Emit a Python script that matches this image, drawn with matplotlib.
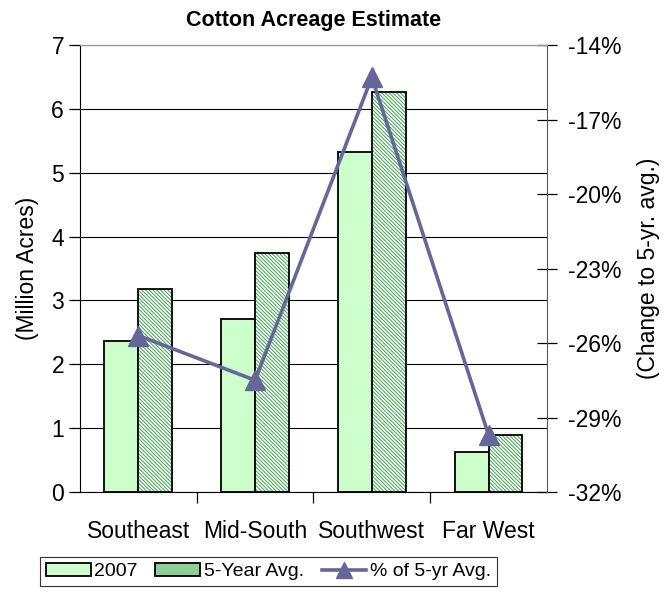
import numpy as np
import matplotlib.pyplot as plt
from matplotlib.patches import Patch
from matplotlib.lines import Line2D
from matplotlib.ticker import FuncFormatter

plt.rcParams['font.family'] = ['Liberation Sans', 'DejaVu Sans']
plt.rcParams['hatch.linewidth'] = 0.7

# Data
regions = ['Southeast', 'Mid-South', 'Southwest', 'Far West']
acres_2007 = [2.36, 2.71, 5.32, 0.62]
acres_5yr = [3.18, 3.74, 6.26, 0.90]
pct_change = [-25.7, -27.5, -15.3, -29.7]

HATCH = '\\\\\\\\\\\\\\\\\\'
HATCH_GREEN = '#3fa34d'
LINE_COLOR = '#666699'
FS = 16.5

fig = plt.figure(figsize=(6.67, 5.94), dpi=100)
ax = fig.add_axes([0.1199, 0.1717, 0.7001, 0.7525])

x = np.arange(len(regions))
w = 0.29
ax.bar(x - w / 2, acres_2007, w, color='#ccffcc', edgecolor='black', linewidth=1.3, zorder=2)
# hatch drawn in green, outline drawn separately in black
ax.bar(x + w / 2, acres_5yr, w, color='white', edgecolor=HATCH_GREEN, linewidth=0,
       hatch=HATCH, zorder=2)
ax.bar(x + w / 2, acres_5yr, w, fill=False, edgecolor='black', linewidth=1.3, zorder=2)

ax.set_xlim(-0.5, 3.5)
ax.set_ylim(0, 7)
ax.set_yticks(range(0, 8))
ax.grid(axis='y', color='black', linewidth=0.8, zorder=0)
ax.set_xticks(x)
ax.set_xticklabels(regions, fontsize=FS)
ax.set_xticks([0.5, 1.5, 2.5], minor=True)
ax.tick_params(axis='x', which='major', length=0, pad=20)
ax.tick_params(axis='x', which='minor', length=8, width=0.9, direction='out')
ax.tick_params(axis='y', labelsize=FS, length=8, width=0.9, direction='out')
ax.set_ylabel('(Million Acres)', fontsize=FS, labelpad=9)
ax.spines['top'].set_color('#999999')
ax.spines['right'].set_visible(False)

# Percent change on secondary axis
ax2 = ax.twinx()
ax2.plot(x, pct_change, color=LINE_COLOR, linewidth=2.6, marker='^', markersize=15,
         zorder=3)
ax2.set_ylim(-32, -14)
ax2.set_yticks(range(-32, -13, 3))
ax2.yaxis.set_major_formatter(FuncFormatter(lambda v, p: f'{int(v)}%'))
ax2.tick_params(axis='y', labelsize=FS, length=15, width=0.9, direction='inout', pad=8)
ax2.set_ylabel('(Change to 5-yr. avg.)', fontsize=FS, rotation=90, labelpad=11)
ax2.spines['right'].set_color('#555555')
ax2.spines['top'].set_color('#999999')
for s in ['left', 'bottom']:
    ax2.spines[s].set_visible(False)

ax.set_title('Cotton Acreage Estimate', fontsize=15.5, fontweight='bold', pad=14)

handles = [
    Patch(facecolor='#ccffcc', edgecolor='black', linewidth=1.3),
    Patch(facecolor='#8fcf95', edgecolor='black', linewidth=1.3),
    Line2D([], [], color=LINE_COLOR, linewidth=2.6, marker='^', markersize=12),
]
labels = ['2007', '5-Year Avg.', '% of 5-yr Avg.']
leg = fig.legend(handles, labels, loc='upper left', bbox_to_anchor=(40 / 667, 1 - 557 / 594),
                 ncol=3, fontsize=14, frameon=True, fancybox=False, edgecolor='black',
                 handlelength=2.3, handleheight=0.7, handletextpad=0.2, columnspacing=0.9,
                 borderpad=0.3, borderaxespad=0)
leg.get_frame().set_linewidth(0.8)

fig.savefig('out.png', dpi=100)
